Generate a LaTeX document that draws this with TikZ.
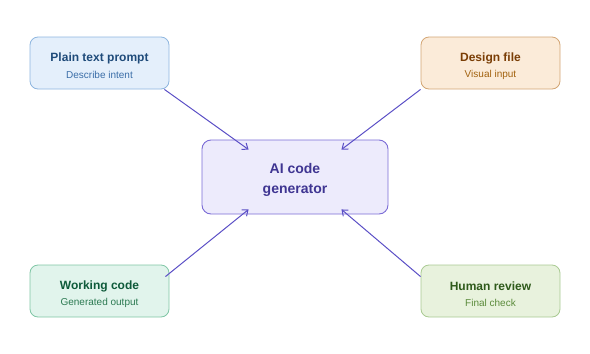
\documentclass[tikz,border=0pt]{standalone}
\usepackage{fontspec}
\setmainfont{Liberation Sans}
\usetikzlibrary{calc,arrows.meta}
\definecolor{bfill}{HTML}{E4EFFB}\definecolor{bdraw}{HTML}{8DB5DF}\definecolor{btitle}{HTML}{1F4B7A}\definecolor{bsub}{HTML}{3B6EA8}
\definecolor{ofill}{HTML}{FBEBD9}\definecolor{odraw}{HTML}{D3A574}\definecolor{otitle}{HTML}{7A3D05}\definecolor{osub}{HTML}{A2620F}
\definecolor{gfill}{HTML}{E1F4EC}\definecolor{gdraw}{HTML}{7FC6A5}\definecolor{gtitle}{HTML}{0E5A3A}\definecolor{gsub}{HTML}{2C7A52}
\definecolor{lfill}{HTML}{E8F2DD}\definecolor{ldraw}{HTML}{A9CA92}\definecolor{ltitle}{HTML}{2F5A1B}\definecolor{lsub}{HTML}{5B8B3B}
\definecolor{pfill}{HTML}{EDEBFC}\definecolor{pdraw}{HTML}{7B6CD6}\definecolor{ptext}{HTML}{3F3592}
\definecolor{arrowc}{HTML}{5B4FC6}
\tikzset{
  sidebox/.style={draw=#1draw,fill=#1fill,rounded corners=8pt,line width=0.8pt,minimum width=139pt,minimum height=52pt,inner sep=0pt},
  titletext/.style={font=\bfseries\fontsize{12}{14}\selectfont,text=#1title,inner sep=0pt},
  subtext/.style={font=\fontsize{10}{12}\selectfont,text=#1sub,inner sep=0pt},
  conn/.style={draw=arrowc,line width=1pt,-{Straight Barb[length=5pt,width=8pt]}},
}
\begin{document}
\begin{tikzpicture}[x=1pt,y=-1pt]
\useasboundingbox (0,0) rectangle (590,354);
\node[draw=pdraw,fill=pfill,rounded corners=9pt,line width=0.9pt,minimum width=186pt,minimum height=74pt,inner sep=0pt] (ai) at (295,177) {};
\node[font=\bfseries\fontsize{14}{20}\selectfont,text=ptext,align=center,inner sep=0pt] (ait) at (295,180) {AI code\\generator};

\node[sidebox=b] (pt) at (99.5,63) {};
\node[titletext=b] (ptt) at (99.5,58) {Plain text prompt};
\node[subtext=b] (pts) at (99.5,75) {Describe intent};

\node[sidebox=o] (df) at (490.5,63) {};
\node[titletext=o] (dft) at (490.5,58) {Design file};
\node[subtext=o] (dfs) at (490.5,75) {Visual input};

\node[sidebox=g] (wc) at (99.5,291) {};
\node[titletext=g] (wct) at (99.5,286) {Working code};
\node[subtext=g] (wcs) at (99.5,303) {Generated output};

\node[sidebox=l] (hr) at (490.5,291) {};
\node[titletext=l] (hrt) at (490.5,286) {Human review};
\node[subtext=l] (hrs) at (490.5,303) {Final check};

\draw[conn] ($(pt.south east)+(-5,0)$) -- ($(ai.north west)+(47,10)$);
\draw[conn] ($(df.south west)+(0,0)$) -- ($(ai.north east)+(-47,10)$);
\draw[conn] ($(wc.north east)+(-4,12)$) -- ($(ai.south west)+(47,-5)$);
\draw[conn] ($(hr.north west)+(0,12)$) -- ($(ai.south east)+(-47,-5)$);
\end{tikzpicture}
\end{document}
